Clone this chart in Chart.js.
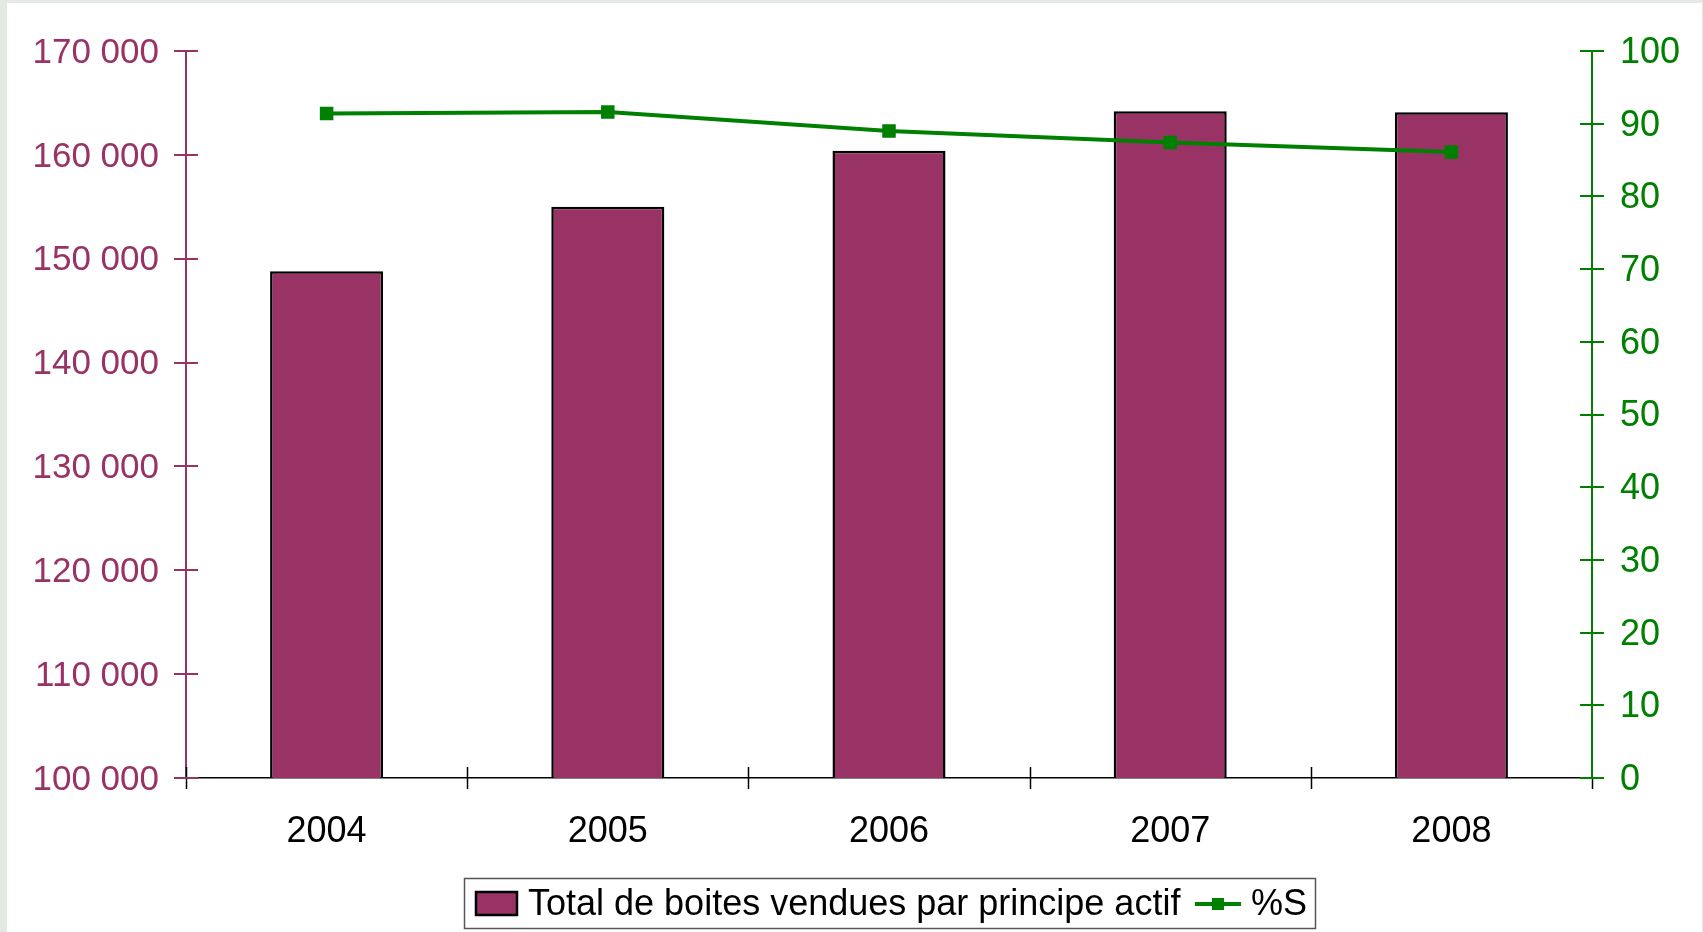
<!DOCTYPE html>
<html>
<head>
<meta charset="utf-8">
<script src="https://cdn.jsdelivr.net/npm/chart.js@4.4.1/dist/chart.umd.min.js"></script>
<style>
  html, body { margin: 0; padding: 0; background: #e3eae3; overflow: hidden; }
  #wrap { position: absolute; left: 0; top: 0; width: 1703px; height: 932px; }
</style>
</head>
<body>
<div id="wrap"><canvas id="c" width="1703" height="932"></canvas></div>
<script>
const categories = ['2004', '2005', '2006', '2007', '2008'];
const totalBoites = [148800, 155000, 160400, 164200, 164100];
const pctS = [91.4, 91.6, 89.0, 87.4, 86.1];
const leftTicks = { min: 100000, max: 170000, step: 10000 };
const rightTicks = { min: 0, max: 100, step: 10 };
const seriesNames = ['Total de boites vendues par principe actif', '%S'];

const PLUM = '#993366';
const GREEN = '#008000';
const FONT = '"Liberation Sans", Arial, sans-serif';

function fmt(v) {
  return String(v).replace(/\B(?=(\d{3})+(?!\d))/g, ' ');
}

const framePlugin = {
  id: 'frame',
  beforeDraw(chart) {
    const ctx = chart.ctx;
    ctx.save();
    ctx.fillStyle = '#e3eae3';
    ctx.fillRect(0, 0, chart.width, chart.height);
    ctx.fillStyle = '#ffffff';
    ctx.fillRect(7, 3, chart.width - 8, chart.height - 3);
    ctx.restore();
  },
  afterDraw(chart) {
    const ctx = chart.ctx;
    const yl = chart.scales.y, yr = chart.scales.y1;
    const ca = chart.chartArea;
    ctx.save();
    // x category boundary ticks
    ctx.strokeStyle = '#000000';
    ctx.lineWidth = 1.5;
    const n = categories.length;
    for (let i = 0; i <= n; i++) {
      const px = Math.round(ca.left + i * (ca.right - ca.left) / n) + 0.5;
      ctx.beginPath();
      ctx.moveTo(px, i === n ? ca.bottom : ca.bottom - 11);
      ctx.lineTo(px, ca.bottom + 11);
      ctx.stroke();
    }
    // left axis ticks (cross)
    ctx.strokeStyle = PLUM;
    ctx.lineWidth = 2;
    yl.ticks.forEach((t, i) => {
      const py = Math.round(yl.getPixelForTick(i));
      ctx.beginPath();
      ctx.moveTo(ca.left - 12, py);
      ctx.lineTo(ca.left + 12, py);
      ctx.stroke();
    });
    // right axis ticks (cross)
    ctx.strokeStyle = GREEN;
    yr.ticks.forEach((t, i) => {
      const py = Math.round(yr.getPixelForTick(i));
      ctx.beginPath();
      ctx.moveTo(ca.right - 12, py);
      ctx.lineTo(ca.right + 12, py);
      ctx.stroke();
    });
    // legend
    const lx = 464, ly = 878, lw = 851, lh = 50;
    ctx.strokeStyle = '#555555';
    ctx.lineWidth = 1.5;
    ctx.strokeRect(lx + 0.5, ly + 0.5, lw, lh);
    ctx.fillStyle = PLUM;
    ctx.fillRect(476, 892, 41, 23);
    ctx.strokeStyle = '#000000';
    ctx.lineWidth = 2.5;
    ctx.strokeRect(476, 892, 41, 23);
    ctx.fillStyle = '#000000';
    ctx.font = '36px ' + FONT;
    ctx.textBaseline = 'middle';
    ctx.textAlign = 'left';
    ctx.fillText(seriesNames[0], 528, 905);
    ctx.strokeStyle = GREEN;
    ctx.lineWidth = 4;
    ctx.beginPath();
    ctx.moveTo(1195, 904);
    ctx.lineTo(1241, 904);
    ctx.stroke();
    ctx.fillStyle = GREEN;
    ctx.fillRect(1212, 898, 12, 12);
    ctx.fillStyle = '#000000';
    ctx.fillText(seriesNames[1], 1251, 905);
    ctx.restore();
  }
};

new Chart(document.getElementById('c'), {
  data: {
    labels: categories,
    datasets: [
      {
        type: 'line',
        label: seriesNames[1],
        data: pctS,
        yAxisID: 'y1',
        borderColor: GREEN,
        backgroundColor: GREEN,
        borderWidth: 4,
        pointStyle: 'rect',
        pointRadius: 8.5,
        pointBorderWidth: 1.5,
        pointBackgroundColor: GREEN,
        pointBorderColor: GREEN,
        tension: 0,
        order: 0
      },
      {
        type: 'bar',
        label: seriesNames[0],
        data: totalBoites,
        yAxisID: 'y',
        backgroundColor: PLUM,
        borderColor: '#000000',
        borderWidth: 2.5,
        barPercentage: 0.402,
        categoryPercentage: 1.0,
        order: 1
      }
    ]
  },
  options: {
    responsive: false,
    animation: false,
    events: [],
    layout: { padding: { left: 0, right: 0, top: 51, bottom: 0 } },
    plugins: { legend: { display: false }, tooltip: { enabled: false } },
    scales: {
      x: {
        type: 'category',
        offset: true,
        grid: { display: false, drawTicks: false },
        border: { display: true, color: '#000000', width: 1.5 },
        ticks: { color: '#000000', font: { family: FONT, size: 36 }, padding: 32, maxRotation: 0 },
        afterFit(s) { s.height = 154; }
      },
      y: {
        type: 'linear',
        position: 'left',
        min: leftTicks.min,
        max: leftTicks.max,
        grid: { display: false, drawTicks: false },
        border: { display: true, color: PLUM, width: 2 },
        ticks: {
          stepSize: leftTicks.step,
          color: PLUM,
          font: { family: FONT, size: 35 },
          padding: 27,
          labelOffset: 2,
          callback: v => fmt(v)
        },
        afterFit(s) { s.width = 186; }
      },
      y1: {
        type: 'linear',
        position: 'right',
        min: rightTicks.min,
        max: rightTicks.max,
        grid: { display: false, drawTicks: false },
        border: { display: true, color: GREEN, width: 2 },
        ticks: {
          stepSize: rightTicks.step,
          color: GREEN,
          font: { family: FONT, size: 36 },
          padding: 28,
          labelOffset: 2
        },
        afterFit(s) { s.width = 111; }
      }
    }
  },
  plugins: [framePlugin]
});
</script>
</body>
</html>
